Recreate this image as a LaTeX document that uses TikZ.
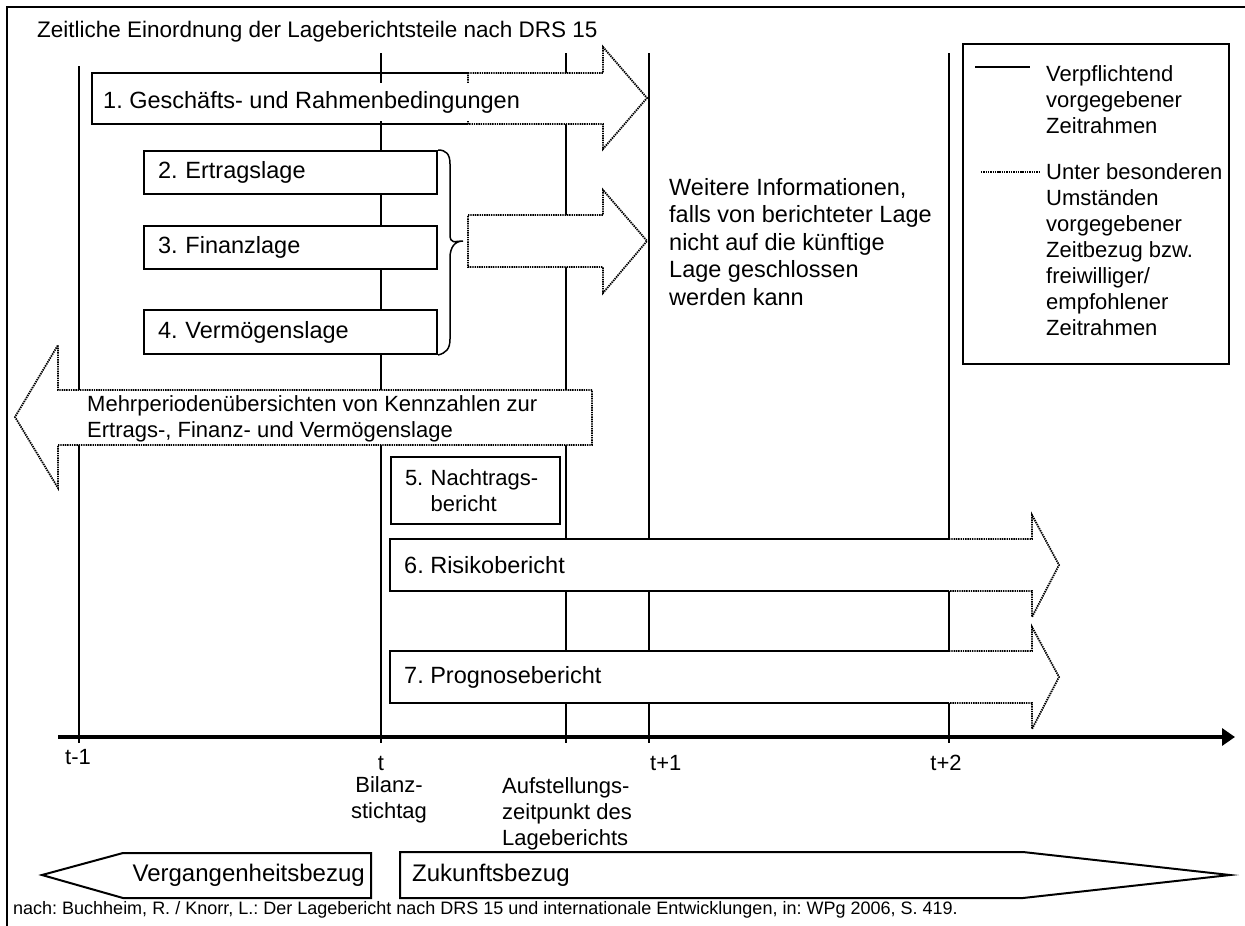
\documentclass[tikz,border=0pt]{standalone}
\usepackage{fontspec}
\setmainfont{Liberation Sans}
\usetikzlibrary{positioning, arrows.meta}
\newcommand{\headfont}{\fontsize{22.5}{26}\selectfont}
\newcommand{\boxfont}{\fontsize{23.5}{27.5}\selectfont}
\newcommand{\smallfont}{\fontsize{22}{26}\selectfont}
\newcommand{\bezugfont}{\fontsize{24}{28}\selectfont}
\newcommand{\reffont}{\fontsize{18}{21}\selectfont}
\frenchspacing
\tikzset{
  frameline/.style={line width=1.5pt},
  timeline/.style={line width=2pt},
  solidbox/.style={line width=2pt},
  dotline/.style={line width=1.8pt, dash pattern=on 1.4pt off 0.9pt},
  lagebox/.style={draw, solidbox, fill=white, anchor=north west, inner xsep=14pt, inner ysep=0pt, align=left},
}

\begin{document}
\begin{tikzpicture}[x=1pt, y=-1pt, every node/.style={align=left, inner sep=0pt, font=\boxfont}]
  \useasboundingbox (0,0) rectangle (1245,926);
  \draw[frameline] (7,926) -- (7,7) -- (1245,7);
  \node[anchor=west, font=\headfont] (title) at (37,32) {Zeitliche Einordnung der Lageberichtsteile nach DRS 15};

  \draw[timeline] (79,66) -- (79,743);
  \draw[line width=1.3pt] (381,53) -- (381,743);
  \draw[line width=1.6pt] (566,53) -- (566,743);
  \draw[timeline] (649,53) -- (649,743);
  \draw[timeline] (949,53) -- (949,743);
  \draw[line width=3.5pt, -{Triangle[length=13pt, width=17pt]}] (58,737) -- (1235,737);

  \filldraw[dotline, fill=white] (468,73) -- (603,73) -- (603,47) -- (647,98) -- (603,149) -- (603,124) -- (468,124) -- cycle;
  \draw[solidbox] (468,73) -- (92,73) -- (92,124) -- (468,124);
  \node[anchor=west, fill=white, inner xsep=3pt, inner ysep=8pt] (gesch) at (100,102) {1. Geschäfts- und Rahmenbedingungen};

  \node[lagebox, minimum width=293pt, minimum height=43pt, text width=265pt] (ertrag) at (143,150) {2. Ertragslage};
  \node[lagebox, minimum width=293pt, minimum height=43pt, text width=265pt] (finanz) at (143,225) {3. Finanzlage};
  \node[lagebox, minimum width=293pt, minimum height=44pt, text width=265pt] (vermoegen) at (143,309) {4. Vermögenslage};
  \draw[line width=1.5pt] (ertrag.north east) .. controls (446,150) and (450,154) .. (450,164) -- (450,234)
    .. controls (450,245) and (455,241) .. (463,241) .. controls (455,241) and (450,247) .. (450,258) -- (450,339)
    .. controls (450,349) and (446,353) .. (vermoegen.south east);

  \filldraw[dotline, fill=white] (468,215) -- (603,215) -- (603,190) -- (647,241) -- (603,293) -- (603,267) -- (468,267) -- cycle;
  \node[anchor=west] (weitere) at (669,242) {Weitere Informationen,\\falls von berichteter Lage\\nicht auf die künftige\\Lage geschlossen\\werden kann};

  \node[draw, solidbox, fill=white, anchor=north west, minimum width=266pt, minimum height=320pt] (legende) at (962,43) {};
  \draw[solidbox] (975,67) -- (1030,67);
  \node[anchor=west, font=\smallfont] (pflicht) at (1046,100) {Verpflichtend\\vorgegebener\\Zeitrahmen};
  \draw[dotline] (981,172) -- (1039,172);
  \node[anchor=west, font=\smallfont] (freiwillig) at (1046,250) {Unter besonderen\\Umständen\\vorgegebener\\Zeitbezug bzw.\\freiwilliger/\\empfohlener\\Zeitrahmen};

  \filldraw[dotline, fill=white] (592,390) -- (58,390) -- (58,345) -- (15,417) -- (58,488) -- (58,445) -- (592,445) -- cycle;
  \node[anchor=west, font=\smallfont] (mehrperioden) at (87,419) {Mehrperiodenübersichten von Kennzahlen zur\\Ertrags-, Finanz- und Vermögenslage};

  \node[lagebox, font=\smallfont, minimum width=169pt, minimum height=67pt, text width=141pt] (nachtrag) at (390,456) {5. Nachtrags-\\\phantom{5.~}bericht};

  \fill[white] (390,539) rectangle (949,591);
  \filldraw[dotline, fill=white] (949,539) -- (1032,539) -- (1032,515) -- (1059,565) -- (1032,617) -- (1032,591) -- (949,591);
  \draw[solidbox] (949,539) -- (390,539) -- (390,591) -- (949,591);
  \node[anchor=west] (risiko) at (404,565) {6. Risikobericht};

  \fill[white] (390,651) rectangle (949,703);
  \filldraw[dotline, fill=white] (949,651) -- (1032,651) -- (1032,627) -- (1059,677) -- (1032,729) -- (1032,703) -- (949,703);
  \draw[solidbox] (949,651) -- (390,651) -- (390,703) -- (949,703);
  \node[anchor=west] (prognose) at (404,677) {7. Prognosebericht};

  \node[font=\smallfont] (tminus) at (78,757) {t-1};
  \node[font=\smallfont] (tnull) at (381,763) {t};
  \node[anchor=west, font=\smallfont] (tplus) at (650,763) {t+1};
  \node[font=\smallfont] (tplustwo) at (946,763) {t+2};
  \node[align=center, font=\smallfont] (stichtag) at (389,800) {Bilanz-\\stichtag};
  \node[anchor=west, font=\smallfont] (aufstellung) at (502,814) {Aufstellungs-\\zeitpunkt des\\Lageberichts};

  \filldraw[solidbox, fill=white] (371,853) -- (123,853) -- (42,875) -- (123,898) -- (371,898) -- cycle;
  \node[anchor=east, font=\bezugfont] (vergangen) at (365,875) {Vergangenheitsbezug};
  \filldraw[solidbox, fill=white] (400,852) -- (1023,852) -- (1230,875) -- (1023,898) -- (400,898) -- cycle;
  \node[anchor=west, font=\bezugfont] (zukunft) at (412,875) {Zukunftsbezug};

  \node[anchor=west, font=\reffont] (quelle) at (13,910) {nach: Buchheim, R. / Knorr, L.: Der Lagebericht nach DRS 15 und internationale Entwicklungen, in: WPg 2006, S. 419.};
\end{tikzpicture}
\end{document}
